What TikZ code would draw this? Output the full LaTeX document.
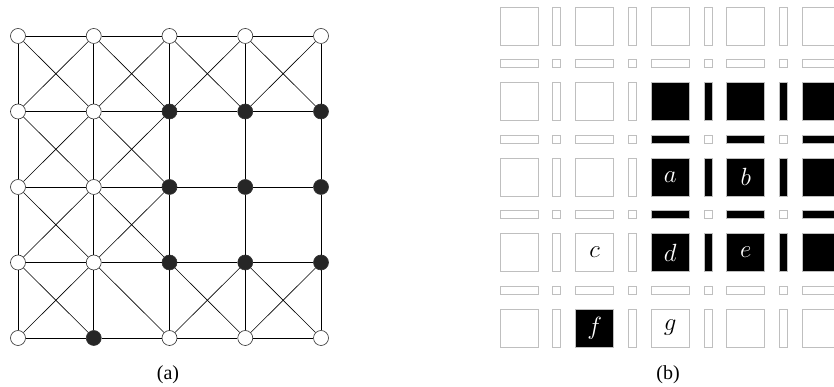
\documentclass[tikz,border=0pt]{standalone}
\usepackage{fontspec}
\setmainfont{Liberation Serif}
\usetikzlibrary{positioning}

\begin{document}
\begin{tikzpicture}[
    x=1pt, y=1pt,
    vtx/.style={circle, draw=black!80, fill=white, line width=0.6pt, inner sep=0pt, minimum size=15pt},
    hit/.style={vtx, fill=black!85},
    edge/.style={draw=black, line width=0.6pt},
    cell/.style={rectangle, draw=black!25, line width=0.8pt, fill=white, inner sep=0pt},
    full/.style={cell, fill=black},
    lbl/.style={font=\fontsize{24}{28}\selectfont},
    subcap/.style={font=\fontsize{20}{24}\selectfont}
]
    \useasboundingbox (0,0) rectangle (834,387);

    % (a) vertices
    \foreach \i in {0,...,4}
      \foreach \j in {0,...,4}{
        \pgfmathtruncatemacro\isblack{(\i>1 && \j>0 && \j<4) || (\i==1 && \j==4)}
        \ifnum\isblack=1 \def\kind{hit}\else\def\kind{vtx}\fi
        \node[\kind] (v\i\j) at ({18+75.75*\i},{351-75.5*\j}) {};
      }

    % (a) edges
    \foreach \i [evaluate=\i as \k using int(\i+1)] in {0,...,3}
      \foreach \j in {0,...,4}{
        \draw[edge] (v\i\j) -- (v\k\j);
        \draw[edge] (v\j\i) -- (v\j\k);
      }
    \foreach \i/\j in {0/0,1/0,2/0,3/0,0/1,1/1,0/2,1/2,0/3,2/3,3/3}{
        \pgfmathtruncatemacro\k{\i+1}
        \pgfmathtruncatemacro\l{\j+1}
        \draw[edge] (v\i\j) -- (v\k\l);
        \draw[edge] (v\k\j) -- (v\i\l);
    }
    \draw[edge] (v13) -- (v24);

    \node[subcap] (capa) at (168,12) {(a)};

    % (b) cells
    \begin{scope}
      \clip (490,0) rectangle (834,387);
      \foreach \i in {0,...,4}
        \foreach \j in {0,...,4}{
          \pgfmathtruncatemacro\isblack{(\i>1 && \j>0 && \j<4) || (\i==1 && \j==4)}
          \ifnum\isblack=1 \def\kind{full}\else\def\kind{cell}\fi
          \node[\kind, minimum size=38pt] (c\i\j) at ({519+75.6*\i},{361-75.5*\j}) {};
        }
      % vertical bars
      \foreach \i in {0,...,3}
        \foreach \j in {0,...,4}{
          \pgfmathtruncatemacro\isblack{(\i>1 && \j>0 && \j<4)}
          \ifnum\isblack=1 \def\kind{full}\else\def\kind{cell}\fi
          \node[\kind, minimum width=8pt, minimum height=38pt] at ({519+75.6*\i+37.8},{361-75.5*\j}) {};
        }
      % horizontal bars
      \foreach \i in {0,...,4}
        \foreach \j in {0,...,3}{
          \pgfmathtruncatemacro\isblack{(\i>1 && \j>0 && \j<3)}
          \ifnum\isblack=1 \def\kind{full}\else\def\kind{cell}\fi
          \node[\kind, minimum width=38pt, minimum height=8pt] at ({519+75.6*\i},{361-75.5*\j-37.75}) {};
        }
      % small squares
      \foreach \i in {0,...,3}
        \foreach \j in {0,...,3}
          \node[cell, minimum size=8pt] at ({519+75.6*\i+37.8},{361-75.5*\j-37.75}) {};
    \end{scope}

    % labels
    \node[lbl, text=white] at (c22) {$a$};
    \node[lbl, text=white] at (c32) {$b$};
    \node[lbl] at (c13) {$c$};
    \node[lbl, text=white] at (c23) {$d$};
    \node[lbl, text=white] at (c33) {$e$};
    \node[lbl, text=white] at (c14) {$f$};
    \node[lbl] at (c24) {$g$};

    \node[subcap] (capb) at (668,12) {(b)};
\end{tikzpicture}
\end{document}
